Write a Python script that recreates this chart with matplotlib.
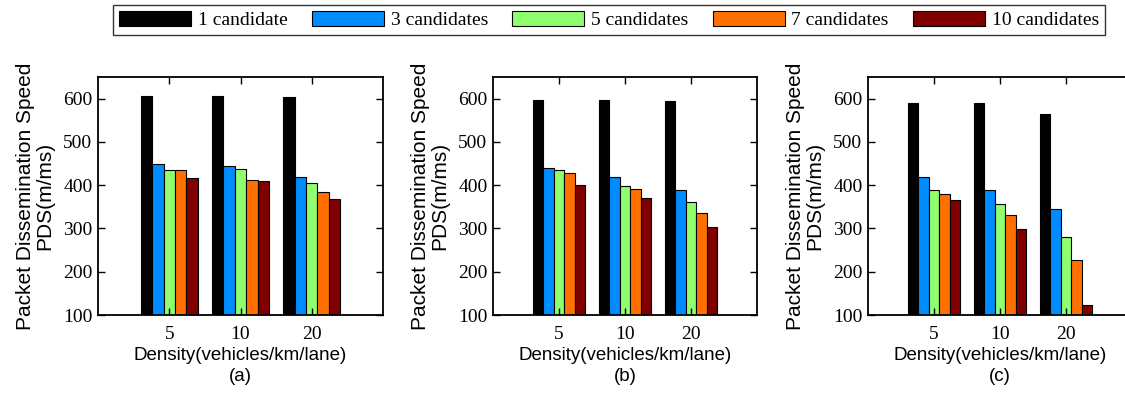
import numpy as np
import matplotlib.pyplot as plt

# densities on the x axis and the number of candidates per series
densities = ['5', '10', '20']
series_names = ['1 candidate', '3 candidates', '5 candidates', '7 candidates', '10 candidates']
series_colors = ['#000000', '#008cff', '#8fff70', '#ff7000', '#800000']

# PDS (m/ms) per panel, rows = candidates, columns = density 5/10/20
pds_a = [[607, 605, 604],
         [450, 445, 419],
         [436, 438, 406],
         [435, 412, 385],
         [417, 410, 369]]
pds_b = [[596, 598, 595],
         [440, 420, 390],
         [435, 397, 360],
         [428, 392, 335],
         [401, 370, 304]]
pds_c = [[590, 589, 565],
         [418, 388, 345],
         [388, 356, 280],
         [379, 330, 227],
         [366, 299, 122]]
panel_tags = ['(a)', '(b)', '(c)']

serif = ['Liberation Serif', 'DejaVu Serif']
sans = ['Liberation Sans', 'DejaVu Sans']

fig = plt.figure(figsize=(11.25, 3.95), dpi=100)
rects = [[98/1125, 80/395, 285/1125, 238/395],
         [493/1125, 80/395, 264/1125, 238/395],
         [868/1125, 80/395, 264/1125, 238/395]]

x = np.arange(1, len(densities) + 1)
n = len(series_names)
w = 0.16
handles = []
for rect, data, tag in zip(rects, [pds_a, pds_b, pds_c], panel_tags):
    ax = fig.add_axes(rect)
    base = 100
    for i in range(n):
        vals = np.array(data[i]) - base
        b = ax.bar(x + (i - (n - 1) / 2) * w, vals, w, bottom=base,
                   color=series_colors[i], edgecolor='black', linewidth=0.8,
                   label=series_names[i])
        if tag == '(a)':
            handles.append(b)
    ax.set_xlim(0, 4)
    ax.set_ylim(100, 650)
    ax.set_xticks(x)
    ax.set_xticklabels(densities)
    ax.set_yticks(np.arange(100, 601, 100))
    ax.tick_params(direction='in', top=True, right=True, length=5, width=1,
                   labelsize=14)
    ax.tick_params(axis='x', pad=8)
    ax.tick_params(axis='y', pad=4)
    for lab in ax.get_xticklabels() + ax.get_yticklabels():
        lab.set_family(serif)
    for sp in ax.spines.values():
        sp.set_linewidth(1.3)
    ax.set_xlabel('Density(vehicles/km/lane)\n' + tag, family=sans,
                  fontsize=13.5, labelpad=3, linespacing=1.3)
    ax.set_ylabel('Packet Dissemination Speed\nPDS(m/ms)', family=sans,
                  fontsize=15, labelpad=6, linespacing=1.05)

leg = fig.legend(handles=handles, loc='center', bbox_to_anchor=(609/1125, 1 - 20/395),
                 ncol=5, frameon=True, fancybox=False, edgecolor='black',
                 prop={'family': serif, 'size': 14}, handlelength=3.7,
                 handleheight=0.85, handletextpad=0.35, columnspacing=1.25,
                 borderpad=0.3, borderaxespad=0)
leg.get_frame().set_linewidth(1.0)

fig.savefig('out.png', dpi=100)
